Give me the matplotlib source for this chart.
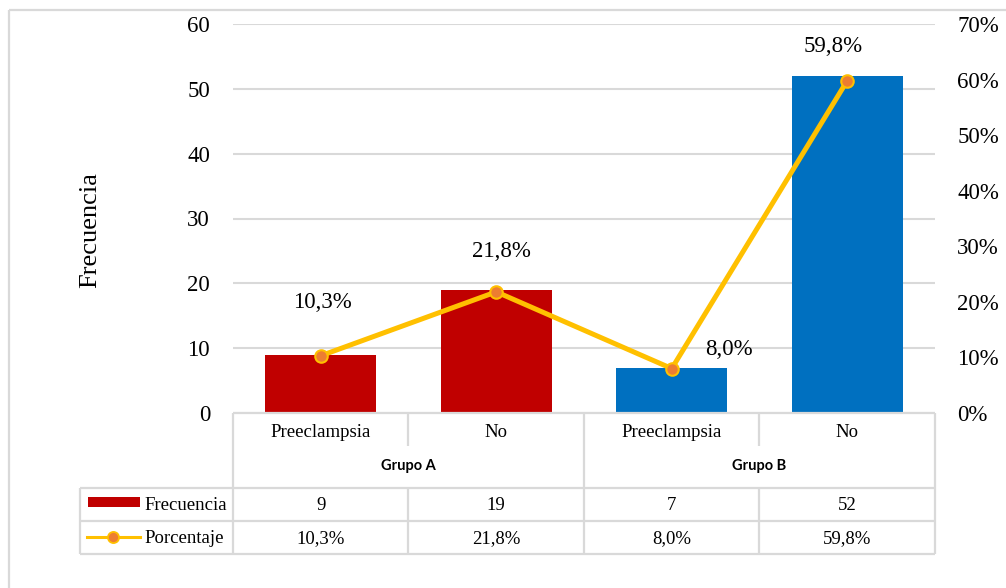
import matplotlib
matplotlib.use("Agg")
import matplotlib.pyplot as plt
from matplotlib.ticker import FuncFormatter

# ---- data ----
categories = ["Preeclampsia", "No", "Preeclampsia", "No"]
groups = ["Grupo A", "Grupo B"]
group_index = [0, 0, 1, 1]
frecuencia = [9, 19, 7, 52]
porcentaje = [10.3, 21.8, 8.0, 59.8]
left_ticks = [0, 10, 20, 30, 40, 50, 60]
right_ticks = [0, 10, 20, 30, 40, 50, 60, 70]
series_names = ["Frecuencia", "Porcentaje"]

# ---- style ----
group_colors = ["#C00000", "#0070C0"]
line_color = "#FFC000"
marker_color = "#ED7D31"
grid_color = "#D9D9D9"
serif = ["Liberation Serif", "DejaVu Serif"]
plt.rcParams["font.family"] = serif

W, H = 1006, 588
fig = plt.figure(figsize=(W / 100, H / 100), dpi=100)

# plot area in pixels
px_l, px_r, px_t, px_b = 233, 935, 24, 413
ax = fig.add_axes([px_l / W, 1 - px_b / H, (px_r - px_l) / W, (px_b - px_t) / H])
ax.set_xlim(-0.5, len(categories) - 0.5)
ax.set_ylim(0, 60)
ax.set_yticks(left_ticks)
ax.yaxis.grid(True, color=grid_color, linewidth=1.5)
ax.set_axisbelow(True)
for s in ax.spines.values():
    s.set_visible(False)
ax.tick_params(axis="y", length=0, pad=16.5, labelsize=16.5)
ax.set_xticks([])
ax.set_ylabel("Frecuencia", fontsize=19)
ax.yaxis.set_label_coords((101 - px_l) / (px_r - px_l), (px_b - 230) / (px_b - px_t))

xs = list(range(len(categories)))
bar_colors = [group_colors[g] for g in group_index]
ax.bar(xs, frecuencia, width=0.63, color=bar_colors, zorder=2)

ax2 = ax.twinx()
ax2.set_ylim(0, 70)
ax2.set_yticks(right_ticks)
ax2.yaxis.set_major_formatter(FuncFormatter(lambda v, p: f"{v:.0f}%"))
for s in ax2.spines.values():
    s.set_visible(False)
ax2.tick_params(axis="y", length=0, pad=16, labelsize=16.5)
ax2.plot(xs, porcentaje, color=line_color, linewidth=3.6, marker="o",
         markersize=9, markerfacecolor=marker_color, markeredgecolor=line_color,
         markeredgewidth=1.5, zorder=3)

label_offsets = [(2, 53), (5, 40), (57, 19), (-14, 34)]
for x, v, (dx, dy) in zip(xs, porcentaje, label_offsets):
    ax2.annotate(f"{v:.1f}%".replace(".", ","), (x, v), xytext=(dx, dy),
                 textcoords="offset pixels", ha="center", va="center", fontsize=16.5)

# ---- data table overlay (pixel coordinates) ----
ov = fig.add_axes([0, 0, 1, 1], zorder=5)
ov.set_xlim(0, W)
ov.set_ylim(H, 0)
ov.axis("off")
ov.patch.set_alpha(0)

lw = 1.6
def hline(y, x0, x1):
    ov.plot([x0, x1], [y, y], color=grid_color, linewidth=lw, solid_capstyle="butt", zorder=1)
def vline(x, y0, y1):
    ov.plot([x, x], [y0, y1], color=grid_color, linewidth=lw, solid_capstyle="butt", zorder=1)

# outer chart border
hline(10, 9, W)
vline(9, 10, H)

cw = (px_r - px_l) / len(categories)
col_edges = [px_l + i * cw for i in range(len(categories) + 1)]
col_centers = [px_l + (i + 0.5) * cw for i in range(len(categories))]
leg_l = 80
r_cat, r_grp, r_f, r_p, r_end = 413, 450, 488, 521, 554

hline(r_cat, px_l, px_r)
for y in (r_f, r_p, r_end):
    hline(y, leg_l, px_r)
vline(leg_l, r_f, r_end)
vline(px_l, r_cat, r_end)
vline(px_r, r_cat, r_end)
# group separator
vline(col_edges[2], r_cat, r_end)
# category separators
for e in (col_edges[1], col_edges[3]):
    vline(e, r_cat, 446)
    vline(e, r_f, r_end)

for cx, c in zip(col_centers, categories):
    ov.text(cx, (r_cat + r_grp) / 2 + 1, c, ha="center", va="center", fontsize=13.5)
for gi, g in enumerate(groups):
    gx = (col_edges[2 * gi] + col_edges[2 * gi + 2]) / 2
    ov.text(gx, 466, g, ha="center", va="center", fontsize=10.5, fontweight="bold",
            family=["Lato", "DejaVu Sans"], zorder=3,
            bbox=dict(boxstyle="square,pad=0.9", facecolor="white", edgecolor="none"))
for cx, f, p in zip(col_centers, frecuencia, porcentaje):
    ov.text(cx, (r_f + r_p) / 2 + 1, f"{f}", ha="center", va="center", fontsize=13.5)
    ov.text(cx, (r_p + r_end) / 2 + 1, f"{p:.1f}%".replace(".", ","), ha="center", va="center", fontsize=13.5)

# legend keys
ov.add_patch(plt.Rectangle((88, 497), 52, 10, facecolor=group_colors[0], edgecolor="none", zorder=2))
ov.text(144, (r_f + r_p) / 2 + 1, series_names[0], ha="left", va="center", fontsize=13.5)
ov.plot([87, 140], [537, 537], color=line_color, linewidth=2.2, zorder=2)
ov.plot([113.5], [537], marker="o", markersize=8, markerfacecolor=marker_color,
        markeredgecolor=line_color, markeredgewidth=1.3, zorder=3)
ov.text(144, (r_p + r_end) / 2 + 1, series_names[1], ha="left", va="center", fontsize=13.5)

fig.savefig("out.png", dpi=100, facecolor="white")
